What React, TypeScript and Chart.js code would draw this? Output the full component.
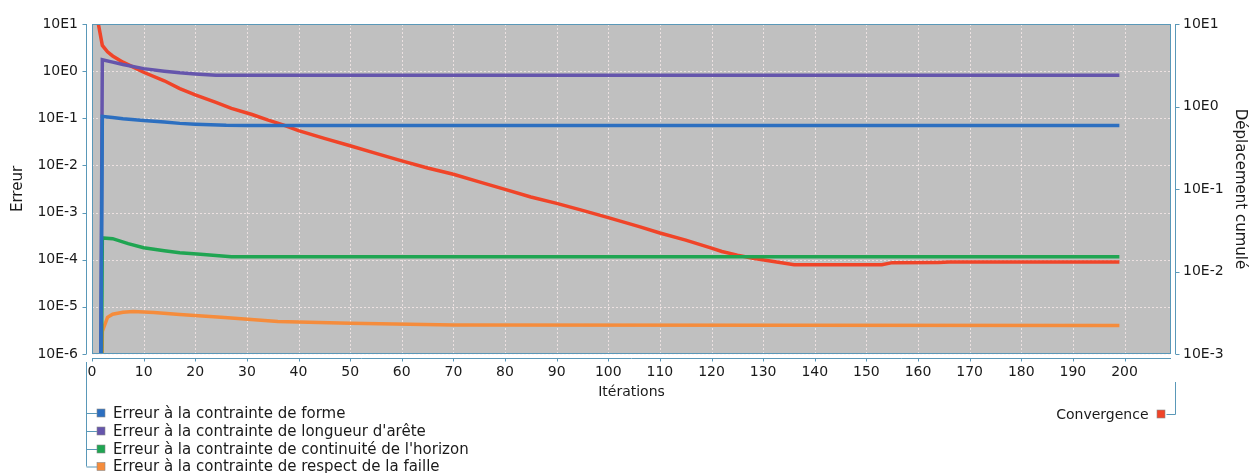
import React, { useEffect, useRef } from 'react';
import { Chart, registerables } from 'chart.js';

Chart.register(...registerables);

// ---- Data ----
const formeIter = [1, 2, 4, 6, 10, 14, 17, 20, 23, 26, 30, 199];
const formeErr = [1e-20, 0.109, 0.104, 0.098, 0.09, 0.083, 0.078, 0.075, 0.073, 0.071, 0.0703, 0.0703];

const areteIter = [1, 2, 4, 6, 10, 14, 17, 20, 24, 199];
const areteErr = [1e-20, 1.75, 1.55, 1.38, 1.13, 1.0, 0.92, 0.87, 0.82, 0.82];

const horizonIter = [1, 2, 4, 7, 10, 14, 17, 21, 27, 199];
const horizonErr = [1e-20, 2.9e-4, 2.8e-4, 2.2e-4, 1.8e-4, 1.55e-4, 1.4e-4, 1.3e-4, 1.15e-4, 1.15e-4];

const failleIter = [1, 2, 3, 4, 6, 8, 12, 17, 25, 36, 50, 70, 199];
const failleErr = [1e-20, 3e-6, 6e-6, 7e-6, 7.7e-6, 8e-6, 7.6e-6, 6.9e-6, 6.0e-6, 4.9e-6, 4.5e-6, 4.1e-6, 4.0e-6];

const convIter = [1, 2, 3, 4, 6, 8, 10, 14, 17, 20, 24, 27, 31, 34, 37, 40, 45, 50, 55, 60, 65, 70, 75, 80, 85, 90, 95, 100, 106, 110, 115, 120, 122, 125, 128, 132, 136, 153, 155, 164, 166, 199];
const convVal = [12, 5.5, 4.6, 4.1, 3.45, 3.0, 2.6, 2.05, 1.65, 1.38, 1.12, 0.95, 0.8, 0.69, 0.6, 0.51, 0.41, 0.334, 0.27, 0.219, 0.18, 0.151, 0.122, 0.099, 0.08, 0.067, 0.055, 0.045, 0.035, 0.0293, 0.024, 0.0192, 0.0175, 0.0158, 0.0145, 0.0132, 0.0121, 0.0121, 0.0128, 0.0129, 0.013, 0.013];

const xTickValues = [0, 10, 20, 30, 40, 50, 60, 70, 80, 90, 100, 110, 120, 130, 140, 150, 160, 170, 180, 190, 200];
const leftTickValues = [10, 1, 0.1, 0.01, 0.001, 1e-4, 1e-5, 1e-6];
const leftTickLabels = ['10E1', '10E0', '10E-1', '10E-2', '10E-3', '10E-4', '10E-5', '10E-6'];
const rightTickValues = [10, 1, 0.1, 0.01, 0.001];
const rightTickLabels = ['10E1', '10E0', '10E-1', '10E-2', '10E-3'];

const leftLegendLabels = [
  'Erreur à la contrainte de forme',
  "Erreur à la contrainte de longueur d'arête",
  "Erreur à la contrainte de continuité de l'horizon",
  'Erreur à la contrainte de respect de la faille',
];
const rightLegendLabel = 'Convergence';

const COLORS = ['#2c6fc0', '#6555ac', '#1fa552', '#f58c3c'];
const RED = '#f04428';
const AXIS = '#5a98b8';
const FONT = 'DejaVu Sans';

const toPts = (xs: number[], ys: number[]) => xs.map((x, i) => ({ x, y: ys[i] }));

const framePlugin = {
  id: 'frame',
  beforeDatasetsDraw(chart: any) {
    const { ctx, chartArea: a, scales } = chart;
    ctx.save();
    ctx.fillStyle = '#c0c0c0';
    ctx.fillRect(a.left, a.top, a.right - a.left, a.bottom - a.top);
    ctx.strokeStyle = 'rgba(255,240,240,0.7)';
    ctx.lineWidth = 1;
    ctx.setLineDash([2, 2]);
    for (const v of xTickValues) {
      const px = Math.round(scales.x.getPixelForValue(v)) + 0.5;
      ctx.beginPath();
      ctx.moveTo(px, a.top);
      ctx.lineTo(px, a.bottom);
      ctx.stroke();
    }
    for (const v of leftTickValues) {
      const py = Math.round(scales.y.getPixelForValue(v)) + 0.5;
      ctx.beginPath();
      ctx.moveTo(a.left, py);
      ctx.lineTo(a.right, py);
      ctx.stroke();
    }
    ctx.restore();
  },
  afterDraw(chart: any) {
    const { ctx, chartArea: a, scales } = chart;
    ctx.save();
    ctx.setLineDash([]);
    ctx.strokeStyle = AXIS;
    ctx.lineWidth = 1;
    // plot border
    ctx.strokeRect(a.left + 0.5, a.top + 0.5, a.right - a.left - 1, a.bottom - a.top - 1);
    // axis lines
    const lx = a.left - 5.5;
    const rx = a.right + 4.5;
    const by = a.bottom + 4.5;
    ctx.beginPath();
    ctx.moveTo(lx, a.top); ctx.lineTo(lx, a.bottom);
    ctx.moveTo(rx, a.top); ctx.lineTo(rx, a.bottom);
    ctx.moveTo(a.left, by); ctx.lineTo(a.right, by);
    for (const v of leftTickValues) {
      const py = Math.round(scales.y.getPixelForValue(v)) + 0.5;
      ctx.moveTo(lx - 4, py); ctx.lineTo(lx, py);
    }
    for (const v of rightTickValues) {
      const py = Math.round(scales.y1.getPixelForValue(v)) + 0.5;
      ctx.moveTo(rx, py); ctx.lineTo(rx + 4, py);
    }
    for (const v of xTickValues) {
      const px = Math.round(scales.x.getPixelForValue(v)) + 0.5;
      ctx.moveTo(px, by); ctx.lineTo(px, by + 3);
    }
    ctx.stroke();

    // left legend tree
    const rows = [413, 431, 449, 466.5];
    ctx.beginPath();
    ctx.moveTo(lx, a.bottom + 8);
    ctx.lineTo(lx, rows[rows.length - 1]);
    for (const r of rows) {
      ctx.moveTo(lx, r + 0.5);
      ctx.lineTo(lx + 11, r + 0.5);
    }
    // right legend tree
    ctx.moveTo(rx, a.bottom + 28);
    ctx.lineTo(rx, 414.5);
    ctx.lineTo(rx - 9, 414.5);
    ctx.stroke();

    ctx.font = `15px "${FONT}"`;
    ctx.textBaseline = 'middle';
    ctx.textAlign = 'left';
    leftLegendLabels.forEach((t, i) => {
      const r = rows[i];
      ctx.fillStyle = COLORS[i];
      ctx.fillRect(lx + 10.5, r - 4, 8, 8);
      ctx.strokeStyle = '#8a8a8a';
      ctx.lineWidth = 0.6;
      ctx.strokeRect(lx + 10.5, r - 4, 8, 8);
      ctx.fillStyle = '#1a1a1a';
      ctx.fillText(t, 113, r + 1);
    });
    ctx.fillStyle = RED;
    ctx.fillRect(rx - 18.5, 410, 8, 8);
    ctx.strokeStyle = '#8a8a8a';
    ctx.strokeRect(rx - 18.5, 410, 8, 8);
    ctx.font = `14px "${FONT}"`;
    ctx.textAlign = 'right';
    ctx.fillStyle = '#1a1a1a';
    ctx.fillText(rightLegendLabel, rx - 27, 415);
    ctx.restore();
  },
};

export default function App() {
  const ref = useRef<HTMLCanvasElement | null>(null);

  useEffect(() => {
    if (!ref.current) return;
    const mk = (label: string, xs: number[], ys: number[], color: string, axis: string, order: number) => ({
      label,
      data: toPts(xs, ys),
      borderColor: color,
      backgroundColor: color,
      borderWidth: 3.5,
      pointRadius: 0,
      tension: 0,
      yAxisID: axis,
      clip: 0,
      order,
    });
    const chart = new Chart(ref.current, {
      type: 'line',
      data: {
        datasets: [
          mk(leftLegendLabels[0], formeIter, formeErr, COLORS[0], 'y', 1),
          mk(leftLegendLabels[1], areteIter, areteErr, COLORS[1], 'y', 2),
          mk(leftLegendLabels[2], horizonIter, horizonErr, COLORS[2], 'y', 3),
          mk(leftLegendLabels[3], failleIter, failleErr, COLORS[3], 'y', 4),
          mk(rightLegendLabel, convIter, convVal, RED, 'y1', 10),
        ] as any,
      },
      options: {
        responsive: false,
        animation: false,
        devicePixelRatio: 1,
        layout: { padding: { left: 0, right: 0, top: 24, bottom: 69 } },
        plugins: { legend: { display: false }, tooltip: { enabled: false } },
        scales: {
          x: {
            type: 'linear',
            min: 0,
            max: 209,
            grid: { display: false, drawTicks: false },
            border: { display: false },
            afterBuildTicks: (s: any) => { s.ticks = xTickValues.map((v) => ({ value: v })); },
            afterFit: (s: any) => { s.height = 50; },
            ticks: {
              autoSkip: false,
              maxRotation: 0,
              padding: 10,
              color: '#1a1a1a',
              font: { family: FONT, size: 14 },
              callback: (v: any) => String(v),
            },
            title: {
              display: true,
              text: 'Itérations',
              color: '#1a1a1a',
              font: { family: FONT, size: 14 },
              padding: { top: 0, bottom: 3 },
            },
          },
          y: {
            type: 'logarithmic',
            position: 'left',
            min: 1e-6,
            max: 10,
            grid: { display: false, drawTicks: false },
            border: { display: false },
            afterBuildTicks: (s: any) => { s.ticks = leftTickValues.map((v) => ({ value: v })); },
            afterFit: (s: any) => { s.width = 92; },
            ticks: {
              autoSkip: false,
              padding: 14,
              color: '#1a1a1a',
              font: { family: FONT, size: 14 },
              callback: (v: any) => leftTickLabels[leftTickValues.indexOf(Number(v))] ?? '',
            },
            title: {
              display: true,
              text: 'Erreur',
              color: '#1a1a1a',
              font: { family: FONT, size: 15 },
              padding: { top: 9, bottom: 0 },
            },
          },
          y1: {
            type: 'logarithmic',
            position: 'right',
            min: 1e-3,
            max: 10,
            grid: { display: false, drawTicks: false },
            border: { display: false },
            afterBuildTicks: (s: any) => { s.ticks = rightTickValues.map((v) => ({ value: v })); },
            afterFit: (s: any) => { s.width = 78; },
            ticks: {
              autoSkip: false,
              padding: 12,
              color: '#1a1a1a',
              font: { family: FONT, size: 14 },
              callback: (v: any) => rightTickLabels[rightTickValues.indexOf(Number(v))] ?? '',
            },
            title: {
              display: true,
              text: 'Déplacement cumulé',
              color: '#1a1a1a',
              font: { family: FONT, size: 15 },
              padding: { top: 0, bottom: 0 },
            },
          },
        },
      } as any,
      plugins: [framePlugin],
    });
    return () => chart.destroy();
  }, []);

  return (
    <div style={{ position: 'absolute', left: 0, top: 0, width: 1249, height: 473, background: '#fff' }}>
      <canvas ref={ref} width={1249} height={473} style={{ display: 'block' }} />
    </div>
  );
}
